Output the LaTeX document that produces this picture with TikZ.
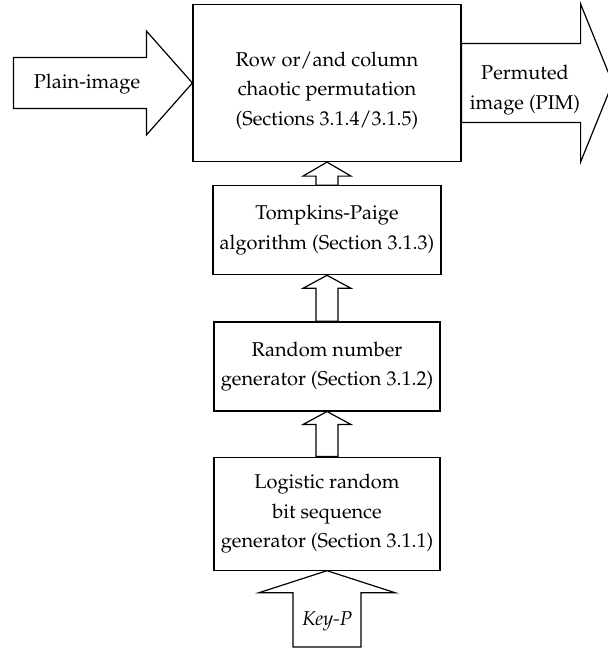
\documentclass[tikz,border=0pt]{standalone}
\usepackage[T1]{fontenc}
\usepackage{mathpazo}
\usepackage{tikz}
\usetikzlibrary{positioning, calc}

\begin{document}
\begin{tikzpicture}[x=0.5pt, y=-0.5pt, line width=0.6pt, font=\fontsize{10}{14.8}\selectfont,
    block/.style={rectangle, draw, align=center, minimum width=113pt, minimum height=44.5pt}]
    \useasboundingbox (0,0) rectangle (608,658);

    \node (perm) [block, minimum width=134pt, minimum height=78.5pt] at (327,83) {\rule{0pt}{15pt}Row or/and column \\ chaotic permutation \\ (Sections 3.1.4/3.1.5)};
    \node (tp) [block, below=11.5pt of perm] {Tompkins-Paige \\ algorithm (Section 3.1.3)};
    \node (rng) [block, below=23pt of tp] {Random number \\ generator (Section 3.1.2)};
    \node (lbs) [block, minimum height=56.5pt, below=22.5pt of rng] {Logistic random \\ bit sequence \\ generator (Section 3.1.1)};

    \node (plain) at (87,84) {Plain-image};
    \node (pim) [align=center] at (525,90) {Permuted \\ image (PIM)};
    \node (key) at (327,621) {\textit{Key-P}};
    \coordinate (keyend) at (327,647);

    % input and output
    \draw (perm.west) -- ++(-46,-52) -- ++(0,26.5) -- ++(-133,0) -- ++(0,51) -- ++(133,0) -- ++(0,26.5) -- cycle;
    \draw (perm.east) ++(0,-39.5) -- ++(119,0) -- ++(0,-39.5) -- ++(32,79) -- ++(-32,79) -- ++(0,-39.5) -- ++(-119,0) -- cycle;

    % block arrows upwards
    \draw (perm.south) -- ++(24,14) -| ($(tp.north)+(11,0)$) -- ($(tp.north)+(-11,0)$) |- ($(perm.south)+(-24,14)$) -- cycle;
    \draw (tp.south) -- ++(24,13) -| ($(rng.north)+(11,0)$) -- ($(rng.north)+(-11,0)$) |- ($(tp.south)+(-24,13)$) -- cycle;
    \draw (rng.south) -- ++(24,13) -| ($(lbs.north)+(11,0)$) -- ($(lbs.north)+(-11,0)$) |- ($(rng.south)+(-24,13)$) -- cycle;
    \draw (lbs.south) -- ++(68,22) -| ($(keyend)+(34,0)$) -- ($(keyend)+(-34,0)$) |- ($(lbs.south)+(-68,22)$) -- cycle;
\end{tikzpicture}
\end{document}
